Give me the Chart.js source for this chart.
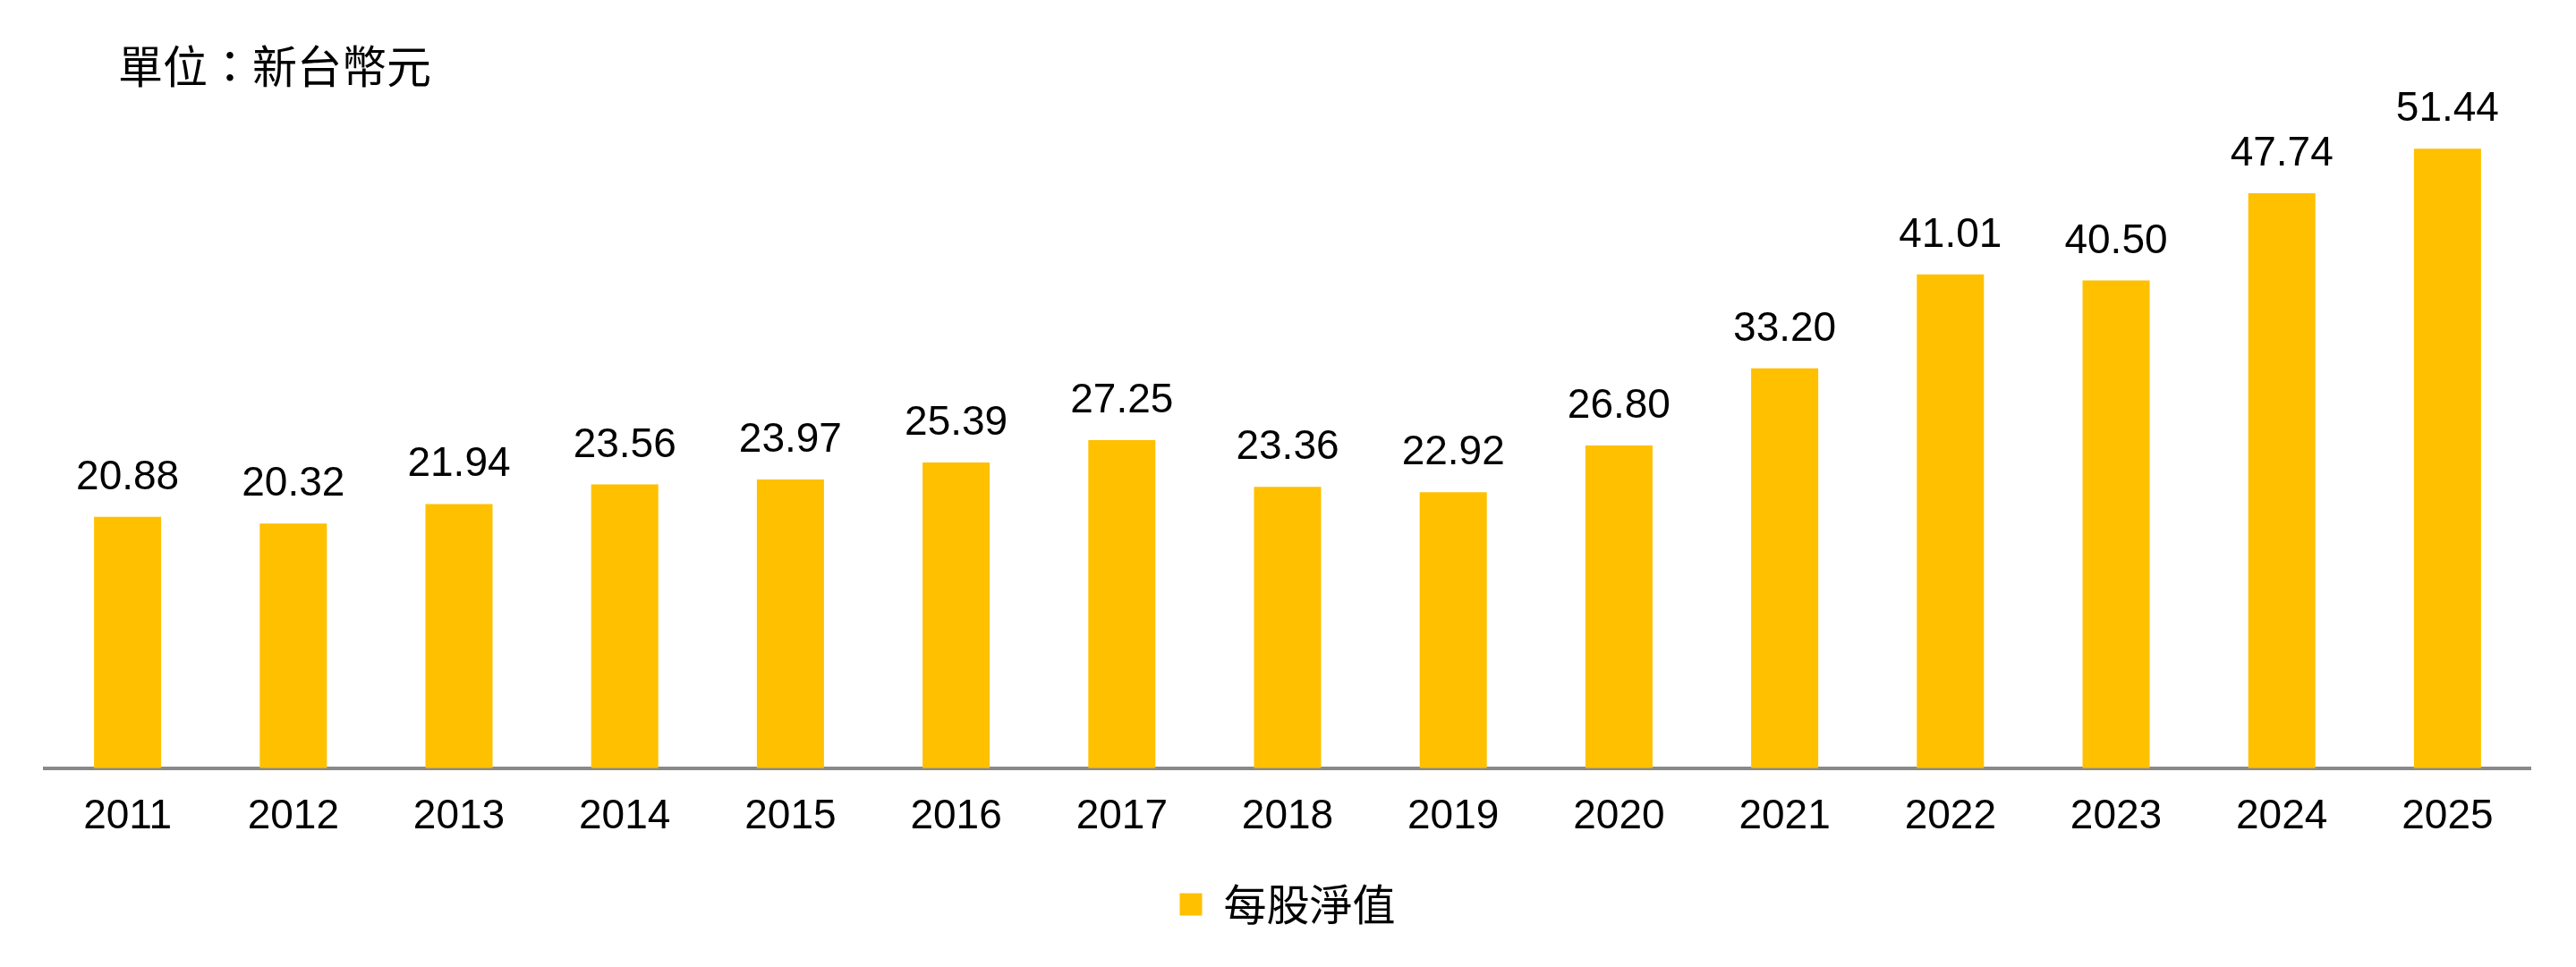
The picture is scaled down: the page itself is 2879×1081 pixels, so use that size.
<!DOCTYPE html>
<html>
<head>
<meta charset="utf-8">
<script src="https://cdn.jsdelivr.net/npm/chart.js@4"></script>
<style>
  html, body { margin: 0; padding: 0; background: #fff; }
  #wrap { width: 2879px; height: 1081px; position: relative; }
</style>
</head>
<body>
<div id="wrap"><canvas id="navChart"></canvas></div>
<script>
// 每股淨值 (新台幣元)
const years = ['2011', '2012', '2013', '2014', '2015', '2016', '2017', '2018',
               '2019', '2020', '2021', '2022', '2023', '2024', '2025'];
const navPerShare = [20.88, 20.32, 21.94, 23.56, 23.97, 25.39, 27.25, 23.36,
                     22.92, 26.80, 33.20, 41.01, 40.50, 47.74, 51.44];
const seriesName = '每股淨值';
const unitText = '單位：新台幣元';

const numFont = '"Liberation Sans", Arial, sans-serif';
const cjkFont = '"Noto Sans CJK TC", "Noto Sans CJK SC", sans-serif';

// unit caption top-left
const unitLabel = {
  id: 'unitLabel',
  afterDraw(chart) {
    const ctx = chart.ctx;
    ctx.save();
    ctx.font = '50px ' + cjkFont;
    ctx.fillStyle = '#000';
    ctx.textAlign = 'left';
    ctx.textBaseline = 'middle';
    ctx.fillText(unitText, 132, 74);
    ctx.restore();
  }
};

// value labels above bars
const valueLabels = {
  id: 'valueLabels',
  afterDatasetsDraw(chart) {
    const ctx = chart.ctx;
    const meta = chart.getDatasetMeta(0);
    ctx.save();
    ctx.font = '46px ' + numFont;
    ctx.fillStyle = '#000';
    ctx.textAlign = 'center';
    ctx.textBaseline = 'alphabetic';
    meta.data.forEach((bar, i) => {
      ctx.fillText(navPerShare[i].toFixed(2), bar.x, bar.y - 31);
    });
    ctx.restore();
  }
};

const ctx = document.getElementById('navChart').getContext('2d');
const navChart = new Chart(ctx, {
  type: 'bar',
  data: {
    labels: years,
    datasets: [{
      label: seriesName,
      data: navPerShare,
      backgroundColor: '#FFC000',
      borderWidth: 0,
      barPercentage: 0.405,
      categoryPercentage: 1.0
    }]
  },
  options: {
    responsive: true,
    maintainAspectRatio: false,
    animation: false,
    layout: {
      padding: { top: 51, left: 50, right: 51, bottom: 36 }
    },
    scales: {
      x: {
        grid: { display: false, drawTicks: false },
        border: { display: true, color: '#898989', width: 4 },
        ticks: {
          color: '#000',
          padding: 27,
          font: { family: numFont, size: 46 }
        }
      },
      y: {
        display: false,
        min: 0,
        max: 60
      }
    },
    plugins: {
      legend: {
        position: 'bottom',
        onClick: (e) => e.stopPropagation(),
        labels: {
          boxWidth: 25,
          boxHeight: 25,
          padding: 19,
          color: '#000',
          font: { family: cjkFont, size: 48 }
        }
      },
      tooltip: { enabled: false }
    }
  },
  plugins: [unitLabel, valueLabels]
});
</script>
</body>
</html>
